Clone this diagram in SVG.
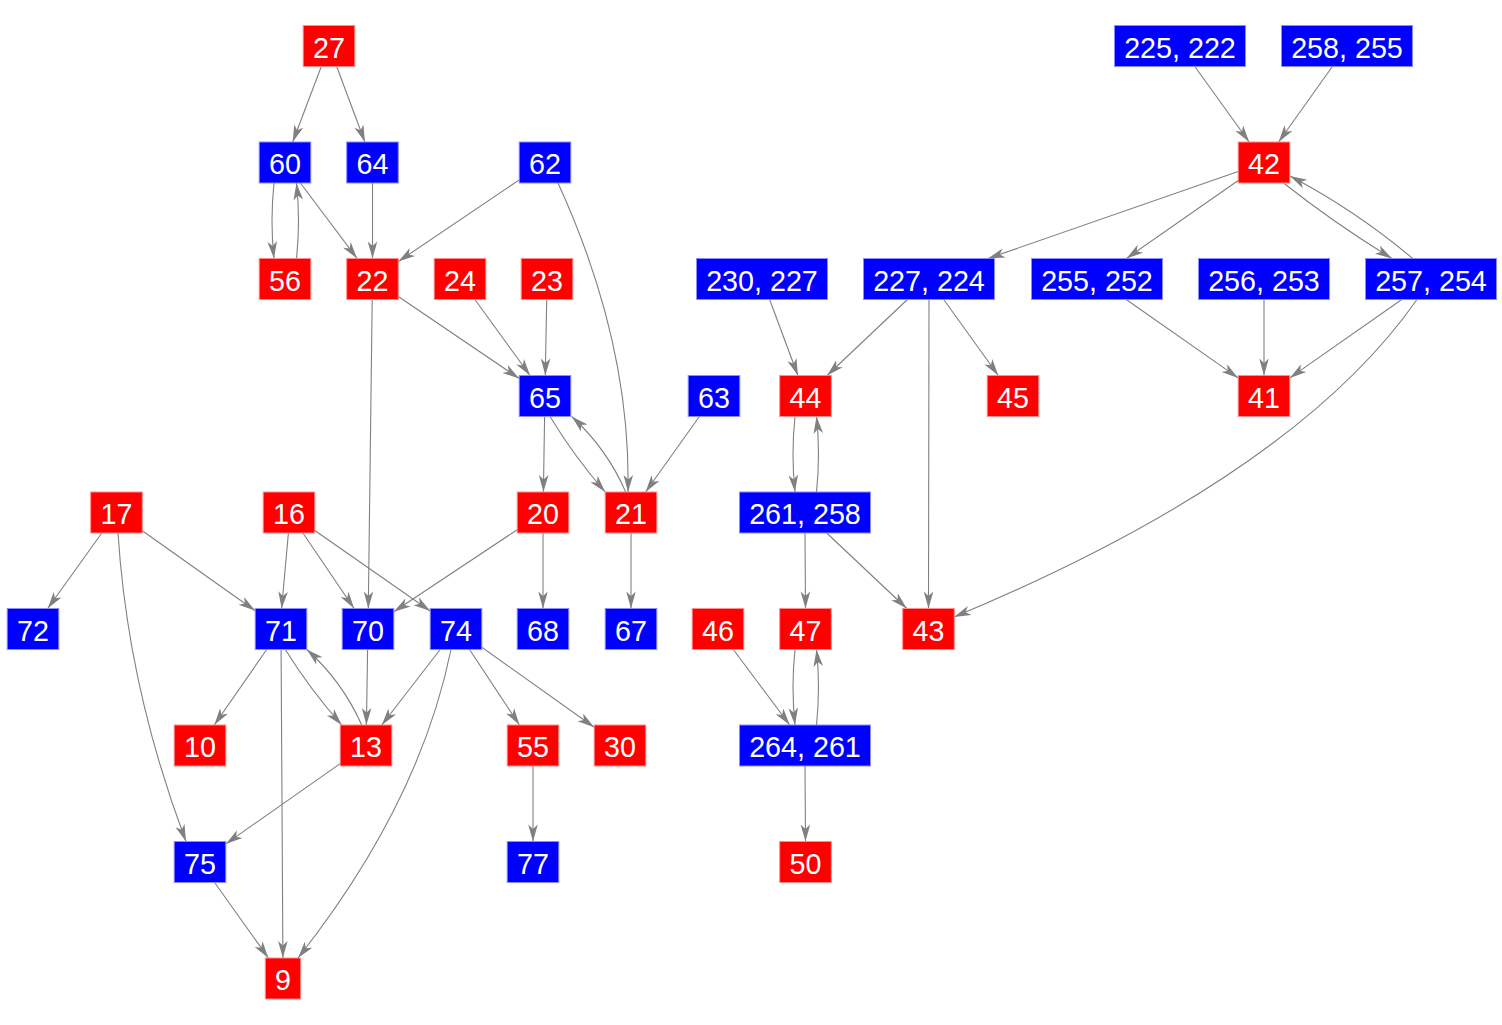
<svg xmlns="http://www.w3.org/2000/svg" width="1502" height="1025" viewBox="0 0 1502 1025">
<style>
.r{fill:#ff0000;stroke:#ff8c8c;stroke-width:1}
.b{fill:#0000ff;stroke:#8c8cff;stroke-width:1}
text{font-family:"Liberation Sans",Arial,sans-serif;font-size:28.7px;fill:#ffffff;text-anchor:middle}
#edges path{fill:none;stroke:#808080;stroke-width:1.1;marker-end:url(#ah)}
</style>
<defs>
<marker id="ah" markerUnits="userSpaceOnUse" markerWidth="20" markerHeight="12" viewBox="-18 -6 20 12" refX="0" refY="0" orient="auto">
<path d="M0,0 L-17,-4.8 L-12.5,0 L-17,4.8 Z" fill="#808080"/>
</marker>
</defs>
<rect width="1502" height="1025" fill="#ffffff"/>
<g id="edges">
<path d="M321.3,66.5 L292.7,142"/>
<path d="M336.7,66.5 L364.9,142"/>
<path d="M274,183 Q270,221 274,258.5"/>
<path d="M296.5,258.5 Q300.5,221 296.5,183"/>
<path d="M300.4,183 L357.1,258.5"/>
<path d="M372.5,183 L372.5,258.5"/>
<path d="M519.2,179.9 L398.3,261.6"/>
<path d="M558,183 Q631,342.5 628,492"/>
<path d="M398.3,296.5 L519.2,378.5"/>
<path d="M474.9,299.5 L530.1,375.5"/>
<path d="M546.7,299.5 L545.3,375.5"/>
<path d="M372.2,299.5 L368.3,608.5"/>
<path d="M544.6,416.5 L543.4,492"/>
<path d="M550,416.5 Q574.4,456.7 605.2,492"/>
<path d="M625.7,492 Q606.8,448.5 571.7,416.5"/>
<path d="M699.4,416.5 L645.6,492"/>
<path d="M517.2,529.7 L393.8,611.8"/>
<path d="M543,533 L543,608.5"/>
<path d="M631,533 L631,608.5"/>
<path d="M101.8,533 L47.7,608.5"/>
<path d="M142.3,530.8 L255.2,610.7"/>
<path d="M118,533 Q128,688 186,841.5"/>
<path d="M288.4,533 L281.6,608.5"/>
<path d="M302.9,533 L354.1,608.5"/>
<path d="M314.8,530.5 L430.2,611"/>
<path d="M266.7,649.5 L214.3,725"/>
<path d="M285.3,649.5 Q310.3,689.7 341.7,725"/>
<path d="M361.7,725 Q342.3,681.4 306.8,649.5"/>
<path d="M281.1,649.5 L282.9,958"/>
<path d="M367.6,649.5 L366.4,725"/>
<path d="M440.2,649.5 L381.8,725"/>
<path d="M451,649.5 Q419.5,804 298,958"/>
<path d="M469.5,649.5 L519.5,725"/>
<path d="M481.8,647.3 L594.2,727.2"/>
<path d="M340.2,763.6 L225.8,843.9"/>
<path d="M214.6,882.5 L268.4,958"/>
<path d="M533,766 L533,841.5"/>
<path d="M1194.8,66.5 L1249.2,142"/>
<path d="M1332.4,66.5 L1278.6,142"/>
<path d="M1238.2,171.5 L988,258.5"/>
<path d="M1238.2,180.5 L1126.4,258.5"/>
<path d="M1283.5,183 Q1335.5,224 1392,258.5"/>
<path d="M1412.7,258.5 Q1355.8,210.6 1290,176"/>
<path d="M769.6,299.5 L797.9,375.5"/>
<path d="M907.4,299.5 L827.1,375.5"/>
<path d="M943.7,299.5 L998.3,375.5"/>
<path d="M929,299.5 L928.5,608.5"/>
<path d="M1126.2,299.5 L1238.2,377.9"/>
<path d="M1264,299.5 L1264,375.5"/>
<path d="M1401.8,299.5 L1289.8,377.9"/>
<path d="M1417,299.5 Q1294.4,475.2 954,617"/>
<path d="M795,416.5 Q791,454 795,492"/>
<path d="M816.5,492 Q820.5,454 816.5,416.5"/>
<path d="M805,533 L805.5,608.5"/>
<path d="M826.7,533 L906.8,608.5"/>
<path d="M733.3,649.5 L789.7,725"/>
<path d="M795,649.5 Q791,687 795,725"/>
<path d="M816.5,725 Q820.5,687 816.5,649.5"/>
<path d="M805,766 L805.5,841.5"/>
</g>
<g id="n27"><rect class="r" x="303.2" y="25.5" width="51.6" height="41"/><text x="329" y="57.5">27</text></g>
<g id="n225_222"><rect class="b" x="1114.5" y="25.5" width="131" height="41"/><text x="1180" y="57.5">225, 222</text></g>
<g id="n258_255"><rect class="b" x="1281.5" y="25.5" width="131" height="41"/><text x="1347" y="57.5">258, 255</text></g>
<g id="n60"><rect class="b" x="259.2" y="142" width="51.6" height="41"/><text x="285" y="174">60</text></g>
<g id="n64"><rect class="b" x="346.7" y="142" width="51.6" height="41"/><text x="372.5" y="174">64</text></g>
<g id="n62"><rect class="b" x="519.2" y="142" width="51.6" height="41"/><text x="545" y="174">62</text></g>
<g id="n42"><rect class="r" x="1238.2" y="142" width="51.6" height="41"/><text x="1264" y="174">42</text></g>
<g id="n56"><rect class="r" x="259.2" y="258.5" width="51.6" height="41"/><text x="285" y="290.5">56</text></g>
<g id="n22"><rect class="r" x="346.7" y="258.5" width="51.6" height="41"/><text x="372.5" y="290.5">22</text></g>
<g id="n24"><rect class="r" x="434.2" y="258.5" width="51.6" height="41"/><text x="460" y="290.5">24</text></g>
<g id="n23"><rect class="r" x="521.2" y="258.5" width="51.6" height="41"/><text x="547" y="290.5">23</text></g>
<g id="n230_227"><rect class="b" x="696.5" y="258.5" width="131" height="41"/><text x="762" y="290.5">230, 227</text></g>
<g id="n227_224"><rect class="b" x="863.5" y="258.5" width="131" height="41"/><text x="929" y="290.5">227, 224</text></g>
<g id="n255_252"><rect class="b" x="1031.5" y="258.5" width="131" height="41"/><text x="1097" y="290.5">255, 252</text></g>
<g id="n256_253"><rect class="b" x="1198.5" y="258.5" width="131" height="41"/><text x="1264" y="290.5">256, 253</text></g>
<g id="n257_254"><rect class="b" x="1365.5" y="258.5" width="131" height="41"/><text x="1431" y="290.5">257, 254</text></g>
<g id="n65"><rect class="b" x="519.2" y="375.5" width="51.6" height="41"/><text x="545" y="407.5">65</text></g>
<g id="n63"><rect class="b" x="688.2" y="375.5" width="51.6" height="41"/><text x="714" y="407.5">63</text></g>
<g id="n44"><rect class="r" x="779.7" y="375.5" width="51.6" height="41"/><text x="805.5" y="407.5">44</text></g>
<g id="n45"><rect class="r" x="987.2" y="375.5" width="51.6" height="41"/><text x="1013" y="407.5">45</text></g>
<g id="n41"><rect class="r" x="1238.2" y="375.5" width="51.6" height="41"/><text x="1264" y="407.5">41</text></g>
<g id="n17"><rect class="r" x="90.7" y="492" width="51.6" height="41"/><text x="116.5" y="524">17</text></g>
<g id="n16"><rect class="r" x="263.2" y="492" width="51.6" height="41"/><text x="289" y="524">16</text></g>
<g id="n20"><rect class="r" x="517.2" y="492" width="51.6" height="41"/><text x="543" y="524">20</text></g>
<g id="n21"><rect class="r" x="605.2" y="492" width="51.6" height="41"/><text x="631" y="524">21</text></g>
<g id="n261_258"><rect class="b" x="739.5" y="492" width="131" height="41"/><text x="805" y="524">261, 258</text></g>
<g id="n72"><rect class="b" x="7.2" y="608.5" width="51.6" height="41"/><text x="33" y="640.5">72</text></g>
<g id="n71"><rect class="b" x="255.2" y="608.5" width="51.6" height="41"/><text x="281" y="640.5">71</text></g>
<g id="n70"><rect class="b" x="342.2" y="608.5" width="51.6" height="41"/><text x="368" y="640.5">70</text></g>
<g id="n74"><rect class="b" x="430.2" y="608.5" width="51.6" height="41"/><text x="456" y="640.5">74</text></g>
<g id="n68"><rect class="b" x="517.2" y="608.5" width="51.6" height="41"/><text x="543" y="640.5">68</text></g>
<g id="n67"><rect class="b" x="605.2" y="608.5" width="51.6" height="41"/><text x="631" y="640.5">67</text></g>
<g id="n46"><rect class="r" x="692.2" y="608.5" width="51.6" height="41"/><text x="718" y="640.5">46</text></g>
<g id="n47"><rect class="r" x="779.7" y="608.5" width="51.6" height="41"/><text x="805.5" y="640.5">47</text></g>
<g id="n43"><rect class="r" x="902.7" y="608.5" width="51.6" height="41"/><text x="928.5" y="640.5">43</text></g>
<g id="n10"><rect class="r" x="174.2" y="725" width="51.6" height="41"/><text x="200" y="757">10</text></g>
<g id="n13"><rect class="r" x="340.2" y="725" width="51.6" height="41"/><text x="366" y="757">13</text></g>
<g id="n55"><rect class="r" x="507.2" y="725" width="51.6" height="41"/><text x="533" y="757">55</text></g>
<g id="n30"><rect class="r" x="594.2" y="725" width="51.6" height="41"/><text x="620" y="757">30</text></g>
<g id="n264_261"><rect class="b" x="739.5" y="725" width="131" height="41"/><text x="805" y="757">264, 261</text></g>
<g id="n75"><rect class="b" x="174.2" y="841.5" width="51.6" height="41"/><text x="200" y="873.5">75</text></g>
<g id="n77"><rect class="b" x="507.2" y="841.5" width="51.6" height="41"/><text x="533" y="873.5">77</text></g>
<g id="n50"><rect class="r" x="779.7" y="841.5" width="51.6" height="41"/><text x="805.5" y="873.5">50</text></g>
<g id="n9"><rect class="r" x="265.3" y="958" width="35.4" height="41"/><text x="283" y="990">9</text></g>
</svg>
